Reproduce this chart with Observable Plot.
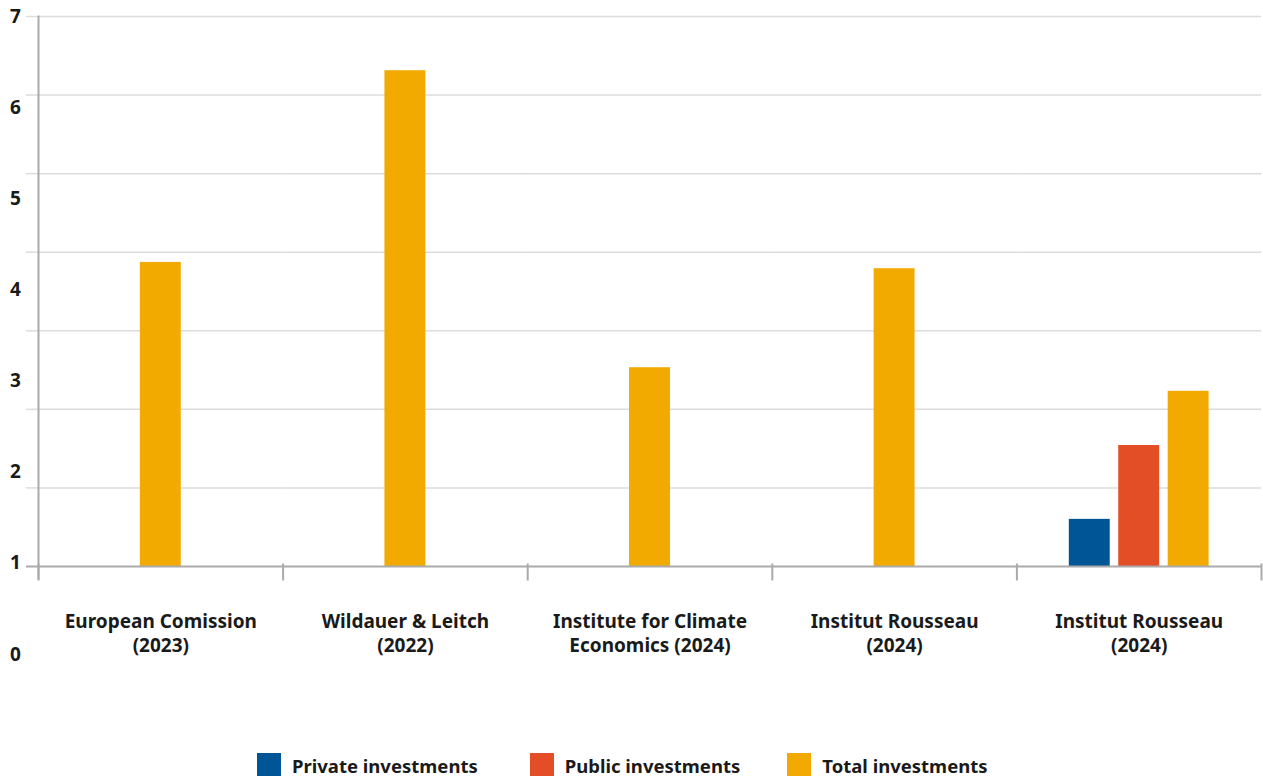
<!DOCTYPE html>
<html>
<head>
<meta charset="utf-8">
<script src="https://cdn.jsdelivr.net/npm/d3@7"></script>
<script src="https://cdn.jsdelivr.net/npm/@observablehq/plot@0.6"></script>
<style>
  html, body { margin: 0; padding: 0; background: #fff; }
  body { width: 1263px; height: 778px; overflow: hidden; font-family: "Noto Sans", sans-serif; }
  #legend { display: flex; align-items: center; padding-left: 257px; margin-top: 12px; height: 24px; }
  .item { display: flex; align-items: center; font-weight: 700; font-size: 18.5px; color: #1a1a1a; }
  .item span { position: relative; top: 1px; }
  .sw { width: 24px; height: 23px; margin-right: 11px; }
</style>
</head>
<body>
<div id="chart"></div>
<div id="legend"></div>
<script>
// ---- data ----
const categoryIds = ["ec2023", "wl2022", "ice2024", "ir2024a", "ir2024b"];
const categoryLabels = [
  "European Comission\n(2023)",
  "Wildauer & Leitch\n(2022)",
  "Institute for Climate\nEconomics (2024)",
  "Institut Rousseau\n(2024)",
  "Institut Rousseau\n(2024)"
];
const series = ["Private investments", "Public investments", "Total investments"];
const privateInvestments = [null, null, null, null, 0.60];
const publicInvestments  = [null, null, null, null, 1.54];
const totalInvestments   = [3.87, 6.31, 2.53, 3.79, 2.23];
const colors = ["#005596", "#e34e26", "#f2aa00"];
const gridValues = [1, 2, 3, 4, 5, 6, 7];
const yTickLabels = [0, 1, 2, 3, 4, 5, 6, 7];

// ---- build table ----
const seriesValues = [privateInvestments, publicInvestments, totalInvestments];
const rows = [];
categoryIds.forEach((id, i) => {
  const present = series.map((s, k) => ({s, k, v: seriesValues[k][i]})).filter(d => d.v != null);
  present.forEach(d => rows.push({
    cat: id,
    series: d.s,
    value: d.v,
    slot: present.length === 1 ? 1 : d.k
  }));
});
const catRows = categoryIds.map((id, i) => ({id, label: categoryLabels[i]}));

// y-axis labels in the reference are spread over the whole height (misaligned with grid)
const labelPos = d3.scaleLinear().domain([0, 7]).range([-1.12, 7.0]);

const chart = Plot.plot({
  width: 1263,
  height: 740,
  marginLeft: 38,
  marginRight: 2,
  marginTop: 16,
  marginBottom: 174,
  style: { fontFamily: "'Noto Sans', sans-serif", fontSize: "19px", fontWeight: 700, color: "#1a1a1a", background: "#fff" },
  fx: { domain: categoryIds, paddingInner: 0, paddingOuter: 0, round: false, axis: null },
  x: { domain: [0, 1, 2], paddingInner: 0.172, paddingOuter: 1.06, round: false, axis: null },
  y: { domain: [0, 7], axis: null },
  color: { domain: series, range: colors },
  marks: [
    Plot.ruleY(gridValues, { stroke: "#dcdcdc", strokeWidth: 1.5 }),
    Plot.axisY(gridValues, { tickSize: 12, tickFormat: () => "", label: null, stroke: "#dcdcdc", strokeWidth: 1.5 }),
    Plot.barY(rows, { fx: "cat", x: "slot", y: "value", fill: "series" }),
    Plot.ruleY([0], { stroke: "#aaaaaa", strokeWidth: 2 }),
    Plot.axisY([0], { tickSize: 12, tickFormat: () => "", label: null, stroke: "#aaaaaa", strokeWidth: 2 }),
    Plot.frame({ anchor: "left", facetAnchor: "left", stroke: "#aaaaaa", strokeWidth: 2, insetBottom: -12 }),
    Plot.frame({ anchor: "left", stroke: "#aaaaaa", strokeWidth: 2, insetTop: 548, insetBottom: -13 }),
    Plot.frame({ anchor: "right", facetAnchor: "right", stroke: "#aaaaaa", strokeWidth: 2, insetTop: 548, insetBottom: -13 }),
    Plot.text(catRows, { fx: "id", text: "label", frameAnchor: "bottom", lineAnchor: "top", dy: 45, lineHeight: 1.25, fill: "#1a1a1a", fontWeight: 700 }),
    Plot.text(yTickLabels, { y: d => labelPos(d), text: d => String(d), frameAnchor: "left", facetAnchor: "left", dx: -23, textAnchor: "middle", lineAnchor: "middle", fill: "#1a1a1a", fontWeight: 700 })
  ]
});
document.getElementById("chart").appendChild(chart);

// ---- legend ----
const legend = document.getElementById("legend");
const gaps = [52, 47, 0];
series.forEach((s, i) => {
  const item = document.createElement("div");
  item.className = "item";
  item.style.marginRight = gaps[i] + "px";
  const sw = document.createElement("div");
  sw.className = "sw";
  sw.style.background = colors[i];
  const t = document.createElement("span");
  t.textContent = s;
  item.appendChild(sw);
  item.appendChild(t);
  legend.appendChild(item);
});
</script>
</body>
</html>
